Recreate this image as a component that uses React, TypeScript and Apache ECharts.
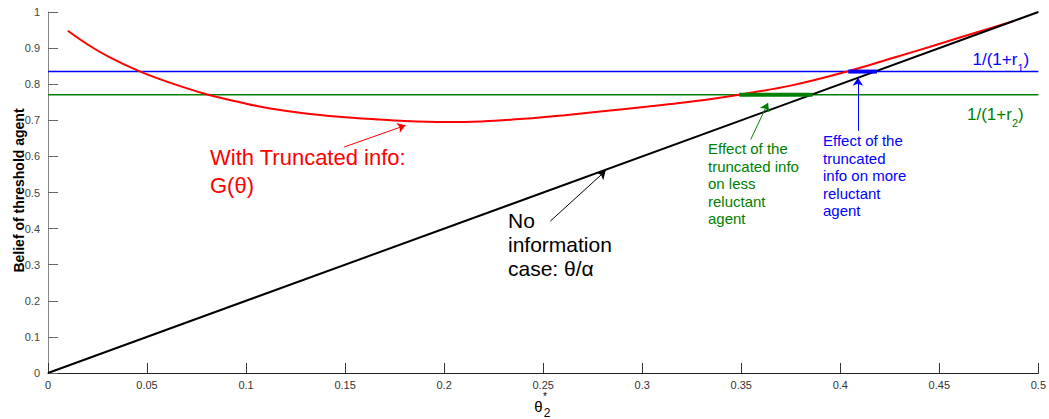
import React, { useEffect, useRef } from "react";
import * as echarts from "echarts";

// ---------- data ----------
const noInfoTheta = [0, 0.5];
const noInfoBelief = [0, 1];

const gTheta = [0.01, 0.02, 0.031, 0.046, 0.06, 0.08, 0.1, 0.113, 0.13, 0.147, 0.165, 0.18, 0.2, 0.219, 0.24, 0.261, 0.28, 0.303, 0.325, 0.349, 0.375, 0.4035, 0.4286, 0.445, 0.462, 0.487];
const gBelief = [0.948, 0.91, 0.875, 0.836, 0.807, 0.772, 0.746, 0.732, 0.719, 0.71, 0.703, 0.698, 0.695, 0.697, 0.704, 0.714, 0.725, 0.738, 0.752, 0.771, 0.796, 0.835, 0.876, 0.903, 0.932, 0.974];

const level1 = 0.835; // 1/(1+r1)
const level2 = 0.771; // 1/(1+r2)
const levelSpan = [0, 0.5];

const lessReluctantSpan = [0.349, 0.386];
const moreReluctantSpan = [0.404, 0.4185];

// annotation arrows in data coordinates: [x0, y0, x1, y1]
const arrowG = [0.1495, 0.626, 0.1805, 0.686];
const arrowNoInfo = [0.2536, 0.4207, 0.2815, 0.56];
const arrowLess = [0.3548, 0.647, 0.3635, 0.748];
const arrowMore = [0.4089, 0.6706, 0.4089, 0.818];

const xMin = 0, xMax = 0.5, xStep = 0.05;
const yMin = 0, yMax = 1, yStep = 0.1;

const FONT = "'Liberation Sans', Arial, sans-serif";
const TICKFONT = "'Liberation Sans Narrow', 'Liberation Sans', Arial, sans-serif";

const pairs = (xs: number[], ys: number[]) => xs.map((x, i) => [x, ys[i]]);
const fmt = (v: number) => String(Math.round(v * 100) / 100);

function arrow(a: number[], color: string) {
  return [
    { coord: [a[0], a[1]], lineStyle: { color, width: 1, type: "solid" }, itemStyle: { color } },
    { coord: [a[2], a[3]], itemStyle: { color } },
  ];
}

export default function App() {
  const ref = useRef<HTMLDivElement>(null);
  useEffect(() => {
    if (!ref.current) return;
    const chart = echarts.init(ref.current, undefined, { renderer: "svg" });
    const option: any = {
      animation: false,
      backgroundColor: "#ffffff",
      grid: { left: 48, right: 8, top: 12, bottom: 46, containLabel: false },
      xAxis: {
        type: "value",
        min: xMin,
        max: xMax,
        interval: xStep,
        axisLine: { show: true, onZero: false, lineStyle: { color: "#222", width: 1 } },
        axisTick: { show: true, inside: true, length: 10, lineStyle: { color: "#333" } },
        axisLabel: { formatter: fmt, fontSize: 11, color: "#333", margin: 6, fontFamily: TICKFONT },
        splitLine: { show: false },
      },
      yAxis: {
        type: "value",
        min: yMin,
        max: yMax,
        interval: yStep,
        axisLine: { show: true, onZero: false, lineStyle: { color: "#888", width: 1 } },
        axisTick: { show: true, inside: true, length: 10, lineStyle: { color: "#666" } },
        axisLabel: { formatter: fmt, fontSize: 11, color: "#444", margin: 8, fontFamily: TICKFONT },
        splitLine: { show: false },
      },
      series: [
        {
          type: "line", name: "1/(1+r1)", showSymbol: false, silent: true,
          data: levelSpan.map((x) => [x, level1]),
          lineStyle: { color: "#0000ff", width: 1.5 },
        },
        {
          type: "line", name: "1/(1+r2)", showSymbol: false, silent: true,
          data: levelSpan.map((x) => [x, level2]),
          lineStyle: { color: "#008000", width: 1.5 },
        },
        {
          type: "line", name: "G", showSymbol: false, silent: true, smooth: 0.3,
          data: pairs(gTheta, gBelief),
          lineStyle: { color: "#ff0000", width: 2 },
        },
        {
          type: "line", name: "no info", showSymbol: false, silent: true,
          data: pairs(noInfoTheta, noInfoBelief),
          lineStyle: { color: "#000000", width: 2 },
          markLine: {
            silent: true,
            symbol: ["none", "arrow"],
            symbolSize: 8,
            label: { show: false },
            emphasis: { disabled: true },
            data: [
              arrow(arrowG, "#ff0000"),
              arrow(arrowNoInfo, "#000000"),
              arrow(arrowLess, "#008000"),
              arrow(arrowMore, "#0000ff"),
            ],
          },
        },
        {
          type: "line", name: "less", showSymbol: false, silent: true,
          data: lessReluctantSpan.map((x) => [x, level2]),
          lineStyle: { color: "#008000", width: 4 },
        },
        {
          type: "line", name: "more", showSymbol: false, silent: true,
          data: moreReluctantSpan.map((x) => [x, level1]),
          lineStyle: { color: "#0000ff", width: 4 },
        },
      ],
      graphic: [
        {
          type: "text", x: 18.5, y: 190.5, rotation: Math.PI / 2,
          style: { text: "Belief of threshold agent", fill: "#000", font: `bold 14px ${FONT}`, align: "center", verticalAlign: "middle" },
        },
        {
          type: "text", x: 210, y: 143.5,
          style: { text: "With Truncated info:\nG(\u03b8)", fill: "#ff0000", font: `22px ${FONT}`, lineHeight: 28, align: "left", verticalAlign: "top" },
        },
        {
          type: "text", x: 508, y: 208.5,
          style: { text: "No\ninformation\ncase: \u03b8/\u03b1", fill: "#000", font: `21px ${FONT}`, lineHeight: 24, align: "left", verticalAlign: "top" },
        },
        {
          type: "text", x: 708, y: 140,
          style: { text: "Effect of the\ntruncated info\non less\nreluctant\nagent", fill: "#008000", font: `15px ${FONT}`, lineHeight: 17.5, align: "left", verticalAlign: "top" },
        },
        {
          type: "text", x: 823, y: 132,
          style: { text: "Effect of the\ntruncated\ninfo on more\nreluctant\nagent", fill: "#0000ff", font: `15px ${FONT}`, lineHeight: 17.5, align: "left", verticalAlign: "top" },
        },
        {
          type: "text", x: 972.5, y: 45,
          style: {
            text: "{m|1/(1+r}{s|1}{m|)}", align: "left", verticalAlign: "top",
            rich: {
              m: { fontSize: 17, fontFamily: FONT, lineHeight: 28, fill: "#0000ff", color: "#0000ff" },
              s: { fontSize: 11, fontFamily: FONT, lineHeight: 12, verticalAlign: "bottom", fill: "#0000ff", color: "#0000ff" },
            },
          },
        },
        {
          type: "text", x: 967, y: 100,
          style: {
            text: "{m|1/(1+r}{s|2}{m|)}", align: "left", verticalAlign: "top",
            rich: {
              m: { fontSize: 17, fontFamily: FONT, lineHeight: 28, fill: "#008000", color: "#008000" },
              s: { fontSize: 11, fontFamily: FONT, lineHeight: 12, verticalAlign: "bottom", fill: "#008000", color: "#008000" },
            },
          },
        },
        {
          type: "text", x: 538.5, y: 406,
          style: { text: "\u03b8", fill: "#000", font: `15px ${FONT}`, align: "center", verticalAlign: "middle" },
        },
        {
          type: "text", x: 547, y: 413,
          style: { text: "2", fill: "#000", font: `12px ${FONT}`, align: "center", verticalAlign: "middle" },
        },
        {
          type: "text", x: 545, y: 396,
          style: { text: "*", fill: "#000", font: `10px ${FONT}`, align: "center", verticalAlign: "middle" },
        },
      ],
    };
    chart.setOption(option);
    return () => chart.dispose();
  }, []);
  return (
    <div
      ref={ref}
      style={{ position: "absolute", left: 0, top: 0, width: 1049, height: 419, background: "#fff" }}
    />
  );
}
